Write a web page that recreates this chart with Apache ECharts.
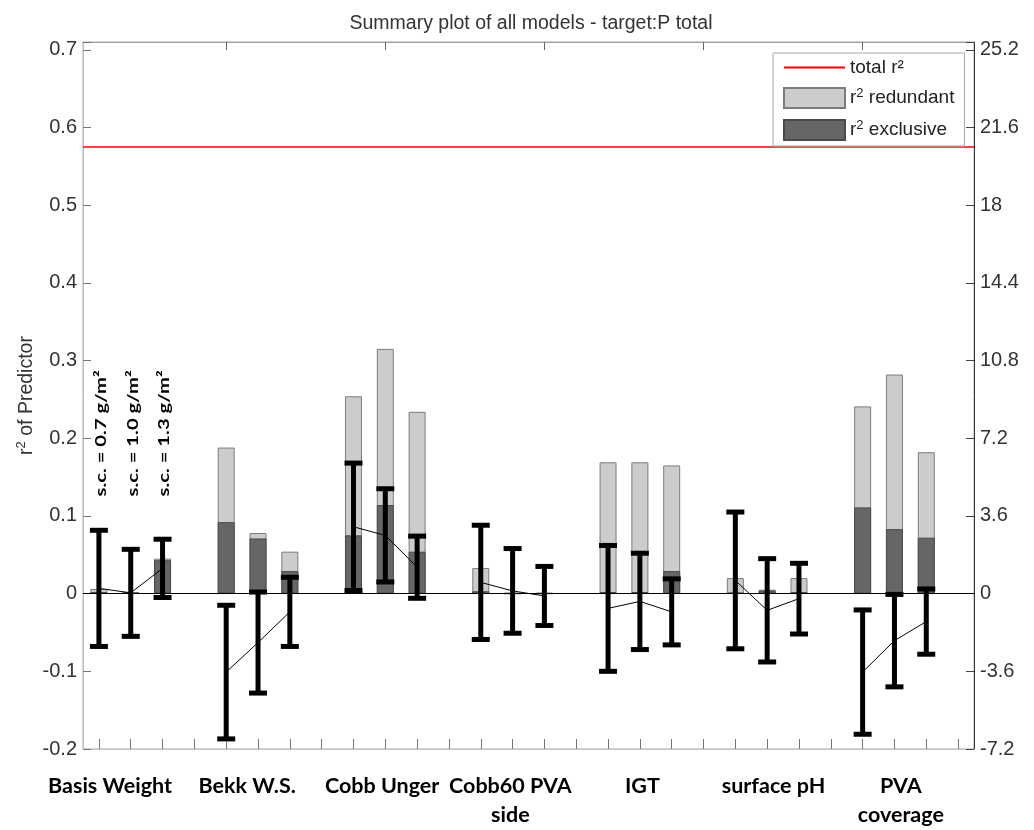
<!DOCTYPE html>
<html>
<head>
<meta charset="utf-8">
<script src="https://cdn.jsdelivr.net/npm/echarts@6/dist/echarts.min.js"></script>
<style>
  html, body { margin: 0; padding: 0; background: #ffffff; }
  #chart { width: 1034px; height: 830px; }
</style>
</head>
<body>
<div id="chart"></div>
<script>
// ---- data -------------------------------------------------------------
const groupNames = ['Basis Weight', 'Bekk W.S.', 'Cobb Unger', 'Cobb60 PVA\nside', 'IGT', 'surface pH', 'PVA\ncoverage'];
const levelNotes = ['s.c. = 0.7 g/m\u00b2', 's.c. = 1.0 g/m\u00b2', 's.c. = 1.3 g/m\u00b2'];

const totalR2 = 0.575;

// r² of each predictor, per group, per starch coating level (0.7 / 1.0 / 1.3 g/m²)
const r2Total = [
  [0.006, 0.002, 0.045],
  [0.188, 0.078, 0.054],
  [0.254, 0.315, 0.234],
  [0.033, 0.001, 0.001],
  [0.169, 0.169, 0.165],
  [0.020, 0.005, 0.020],
  [0.241, 0.282, 0.182]
];
const r2Exclusive = [
  [0.002, 0.001, 0.043],
  [0.092, 0.071, 0.029],
  [0.075, 0.114, 0.054],
  [0.003, 0.000, 0.000],
  [0.002, 0.002, 0.029],
  [0.001, 0.004, 0.002],
  [0.111, 0.083, 0.072]
];
// confidence interval of the coefficients
const ciLow = [
  [-0.068, -0.055, -0.005],
  [-0.187, -0.128, -0.068],
  [0.004, 0.015, -0.006],
  [-0.059, -0.051, -0.041],
  [-0.100, -0.072, -0.066],
  [-0.071, -0.088, -0.052],
  [-0.181, -0.120, -0.078]
];
const ciHigh = [
  [0.0815, 0.057, 0.070],
  [-0.015, 0.002, 0.021],
  [0.168, 0.135, 0.074],
  [0.088, 0.058, 0.035],
  [0.062, 0.052, 0.019],
  [0.105, 0.045, 0.039],
  [-0.021, -0.001, 0.006]
];

const leftTicks = [-0.2, -0.1, 0, 0.1, 0.2, 0.3, 0.4, 0.5, 0.6, 0.7];
const rightTicks = [-7.2, -3.6, 0, 3.6, 7.2, 10.8, 14.4, 18, 21.6, 25.2];

// ---- layout helpers ---------------------------------------------------
// every group takes three bar slots plus one empty slot
const slotsPerGroup = 4;
const slotCount = groupNames.length * slotsPerGroup;
const slotOf = (g, k) => g * slotsPerGroup + k;          // category index
const slots = [];
for (let i = 1; i <= slotCount; i++) slots.push(String(i));
const xMin = 0.5, xMax = slotCount + 0.5;                 // same span on a value scale
const captionX = [1.35, 5.66, 9.9, 13.93, 18.08, 22.2, 26.2];
const topTickEvery = 5;
const yMax = 0.71;
const rightScale = 36;
const noteBase = 0.125;

// ---- series data ------------------------------------------------------
const fullBars = new Array(slotCount).fill('-');
const exclusiveBars = new Array(slotCount).fill('-');
const meanLine = new Array(slotCount).fill(null);
const errorBars = [];
groupNames.forEach((name, g) => {
  for (let k = 0; k < 3; k++) {
    const i = slotOf(g, k);
    fullBars[i] = r2Total[g][k];
    exclusiveBars[i] = r2Exclusive[g][k];
    errorBars.push([i, ciLow[g][k], ciHigh[g][k]]);
    meanLine[i] = (ciLow[g][k] + ciHigh[g][k]) / 2;
  }
});

const FONT = '"Liberation Sans", Arial, sans-serif';
const BOLD = 'Lato, "Open Sans", sans-serif';

function fmtNum(v) {
  return String(Math.round(v * 10) / 10);
}

const chart = echarts.init(document.getElementById('chart'), null, { renderer: 'canvas' });

const option = {
  animation: false,
  backgroundColor: '#ffffff',
  title: {
    text: 'Summary plot of all models - target:P total',
    left: 526,
    top: 9,
    textAlign: 'center',
    textStyle: { fontFamily: FONT, fontSize: 19.5, fontWeight: 'normal', color: '#333333' }
  },
  grid: { left: 83, right: 60, top: 42, bottom: 79, show: true, borderColor: '#a8a8a8', borderWidth: 1 },
  legend: {
    data: [
      { name: 'total r\u00b2', itemStyle: { opacity: 0 } },
      { name: 'r\u00b2 redundant', icon: 'rect' },
      { name: 'r\u00b2 exclusive', icon: 'rect' }
    ],
    orient: 'vertical',
    left: 773,
    top: 53,
    itemWidth: 61,
    itemHeight: 20,
    itemGap: 10,
    padding: [5, 10, 5, 10],
    backgroundColor: '#ffffff',
    borderColor: '#a8a8a8',
    borderWidth: 1,
    selectedMode: false,
    formatter: function (name) {
      if (name === 'total r\u00b2') return '{n|' + name + '}';
      return '{n|r}{s|2}{n|' + name.slice(2) + '}';
    },
    textStyle: {
      fontFamily: FONT,
      fontSize: 19,
      color: '#222222',
      rich: {
        n: { fontFamily: FONT, fontSize: 19, color: '#222222', lineHeight: 22 },
        s: { fontFamily: FONT, fontSize: 13, color: '#222222', verticalAlign: 'top', lineHeight: 22 }
      }
    }
  },
  xAxis: [
    {
      // bar slots
      type: 'category',
      position: 'bottom',
      data: slots,
      boundaryGap: true,
      axisLine: { show: true, onZero: false, lineStyle: { color: '#c4c4c4', width: 1 } },
      axisTick: { show: true, inside: true, length: 10, interval: 0, alignWithLabel: true, lineStyle: { color: '#777777' } },
      axisLabel: { show: false },
      splitLine: { show: false }
    },
    {
      // upper frame
      type: 'category',
      position: 'top',
      data: slots,
      boundaryGap: true,
      axisLine: { show: true, onZero: false, lineStyle: { color: '#a0a0a0', width: 1 } },
      axisTick: {
        show: true, inside: true, length: 8, alignWithLabel: true,
        interval: function (index) { return (index + 1) % topTickEvery === 0; },
        lineStyle: { color: '#666666' }
      },
      axisLabel: { show: false },
      splitLine: { show: false }
    },
    {
      // group captions
      type: 'value',
      position: 'bottom',
      offset: 0,
      min: xMin,
      max: xMax,
      axisLine: { show: false, onZero: false },
      axisTick: { show: false },
      axisLabel: {
        show: true,
        customValues: captionX,
        margin: 23,
        fontFamily: BOLD,
        fontWeight: 'bold',
        fontSize: 21.5,
        lineHeight: 29,
        color: '#000000',
        align: 'center',
        formatter: function (v) {
          let best = 0;
          captionX.forEach((c, i) => { if (Math.abs(c - v) < Math.abs(captionX[best] - v)) best = i; });
          return groupNames[best];
        }
      },
      splitLine: { show: false }
    }
  ],
  yAxis: [
    {
      type: 'value',
      position: 'left',
      min: leftTicks[0],
      max: yMax,
      interval: 0.1,
      name: '{n|r}{s|2}{n| of Predictor}',
      nameLocation: 'middle',
      nameGap: 44,
      nameMoveOverlap: false,
      nameRotate: 90,
      nameTextStyle: {
        rich: {
          n: { fontFamily: FONT, fontSize: 19.5, color: '#333333', lineHeight: 24 },
          s: { fontFamily: FONT, fontSize: 13, color: '#333333', verticalAlign: 'top', lineHeight: 24 }
        }
      },
      axisLine: { show: true, onZero: false, lineStyle: { color: '#c4c4c4', width: 1 } },
      axisTick: { show: true, inside: true, length: 8, lineStyle: { color: '#777777' } },
      axisLabel: {
        customValues: leftTicks,
        margin: 6,
        fontFamily: FONT,
        fontSize: 20,
        color: '#333333',
        formatter: fmtNum
      },
      splitLine: { show: false }
    },
    {
      type: 'value',
      position: 'right',
      min: rightTicks[0],
      max: yMax * rightScale,
      interval: 3.6,
      axisLine: { show: true, onZero: false, lineStyle: { color: '#333333', width: 1 } },
      axisTick: { show: true, inside: true, length: 8, lineStyle: { color: '#444444' } },
      axisLabel: {
        customValues: rightTicks,
        margin: 6,
        fontFamily: FONT,
        fontSize: 20,
        color: '#333333',
        formatter: fmtNum
      },
      splitLine: { show: false }
    }
  ],
  series: [
    {
      name: 'total r\u00b2',
      type: 'line',
      xAxisIndex: 2,
      data: [[xMin, totalR2], [xMax, totalR2]],
      symbol: 'none',
      lineStyle: { color: '#ff0000', width: 1.5 },
      itemStyle: { color: '#ff0000' },
      z: 3,
      silent: true
    },
    {
      name: 'r\u00b2 redundant',
      type: 'bar',
      data: fullBars,
      barWidth: 17,
      barGap: '-100%',
      itemStyle: { color: '#cccccc', borderColor: '#7c7c7c', borderWidth: 1 },
      z: 2,
      silent: true,
      markLine: {
        silent: true,
        symbol: 'none',
        label: { show: false },
        lineStyle: { color: '#000000', width: 1, type: 'solid' },
        data: [{ yAxis: 0 }]
      }
    },
    {
      name: 'r\u00b2 exclusive',
      type: 'bar',
      data: exclusiveBars,
      barWidth: 17,
      barGap: '-100%',
      itemStyle: { color: '#666666', borderColor: '#4a4a4a', borderWidth: 1 },
      z: 2,
      silent: true
    },
    {
      name: 'mean',
      type: 'line',
      data: meanLine,
      connectNulls: false,
      symbol: 'none',
      lineStyle: { color: '#000000', width: 1 },
      z: 4,
      silent: true
    },
    {
      name: 'interval',
      type: 'custom',
      data: errorBars,
      encode: { x: 0, y: [1, 2] },
      z: 5,
      silent: true,
      renderItem: function (params, api) {
        const x = api.value(0);
        const lo = api.coord([x, api.value(1)]);
        const hi = api.coord([x, api.value(2)]);
        const capW = 18, capH = 5, stem = 5;
        return {
          type: 'group',
          children: [
            { type: 'rect', shape: { x: hi[0] - stem / 2, y: hi[1], width: stem, height: lo[1] - hi[1] }, style: { fill: '#000000' } },
            { type: 'rect', shape: { x: hi[0] - capW / 2, y: hi[1] - capH / 2, width: capW, height: capH }, style: { fill: '#000000' } },
            { type: 'rect', shape: { x: lo[0] - capW / 2, y: lo[1] - capH / 2, width: capW, height: capH }, style: { fill: '#000000' } }
          ]
        };
      }
    }
  ]
};

chart.setOption(option);

// vertical notes naming the coating level of each bar in a group
const notes = levelNotes.map((t, k) => {
  const p = chart.convertToPixel({ xAxisIndex: 0, yAxisIndex: 0 }, [slotOf(0, k), noteBase]);
  return {
    type: 'text',
    x: p[0] + 2,
    y: p[1],
    rotation: Math.PI / 2,
    scaleX: 1.35,
    silent: true,
    style: {
      text: t,
      fontFamily: BOLD,
      fontWeight: 'bold',
      fontSize: 15,
      fill: '#000000',
      align: 'left',
      verticalAlign: 'middle'
    }
  };
});
chart.setOption({ graphic: notes });
</script>
</body>
</html>
